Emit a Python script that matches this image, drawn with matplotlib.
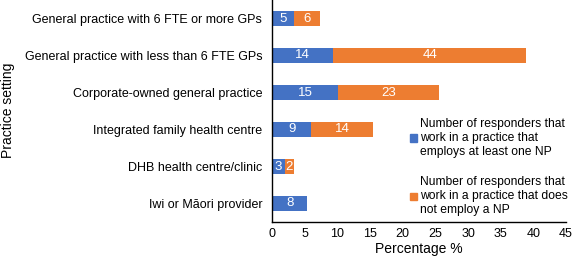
import matplotlib
matplotlib.use("Agg")
import matplotlib.pyplot as plt
from matplotlib.patches import Patch

categories = [
    "General practice with 6 FTE or more GPs",
    "General practice with less than 6 FTE GPs",
    "Corporate-owned general practice",
    "Integrated family health centre",
    "DHB health centre/clinic",
    "Iwi or Māori provider",
]
employs_pct = [3.4, 9.4, 10.1, 6.0, 2.0, 5.4]
not_employ_pct = [4.0, 29.5, 15.4, 9.4, 1.3, 0.0]
employs_n = [5, 14, 15, 9, 3, 8]
not_employ_n = [6, 44, 23, 14, 2, None]
xticks = [0, 5, 10, 15, 20, 25, 30, 35, 40, 45]

blue = "#4472C4"
orange = "#ED7D31"

plt.rcParams['font.family'] = ['Liberation Sans', 'DejaVu Sans']
fig = plt.figure(figsize=(5.73, 2.64), dpi=100)
ax = fig.add_axes([272/573, 1 - 222/264, 294/573, 222/264])

y = list(range(len(categories)))
h = 0.4
ax.barh(y, employs_pct, height=h, color=blue)
ax.barh(y, not_employ_pct, left=employs_pct, height=h, color=orange)

for i in y:
    ax.text(employs_pct[i] / 2, i, str(employs_n[i]), color="white",
            ha="center", va="center", fontsize=9.5)
    if not_employ_n[i] is not None:
        ax.text(employs_pct[i] + not_employ_pct[i] / 2, i, str(not_employ_n[i]),
                color="white", ha="center", va="center", fontsize=9.5)

ax.set_ylim(len(categories) - 0.5, -0.5)
ax.set_xlim(0, 45)
ax.set_xticks(xticks)
ax.set_yticks(y)
ax.set_yticklabels(categories, fontsize=9)
ax.tick_params(axis='both', length=0, labelsize=9)
ax.tick_params(axis='x', pad=4)
ax.tick_params(axis='y', pad=7)
for s in ["top", "right"]:
    ax.spines[s].set_visible(False)
for s in ["left", "bottom"]:
    ax.spines[s].set_linewidth(1.0)
    ax.spines[s].set_color("black")
ax.set_xlabel("Percentage %", fontsize=10, labelpad=2)
fig.text(8/573, 1 - 110/264, "Practice setting", rotation=90, fontsize=10,
         ha="center", va="center")

handles = [Patch(color=blue), Patch(color=orange)]
labels = [
    "Number of responders that\nwork in a practice that\nemploys at least one NP",
    "Number of responders that\nwork in a practice that does\nnot employ a NP",
]
fig.legend(handles, labels, loc="upper left", bbox_to_anchor=(410/573, 1 - 118/264),
           frameon=False, fontsize=8.7, handlelength=0.6, handleheight=0.6,
           handletextpad=0.2, labelspacing=1.55, borderaxespad=0, borderpad=0)

fig.savefig("out.png", dpi=100)
